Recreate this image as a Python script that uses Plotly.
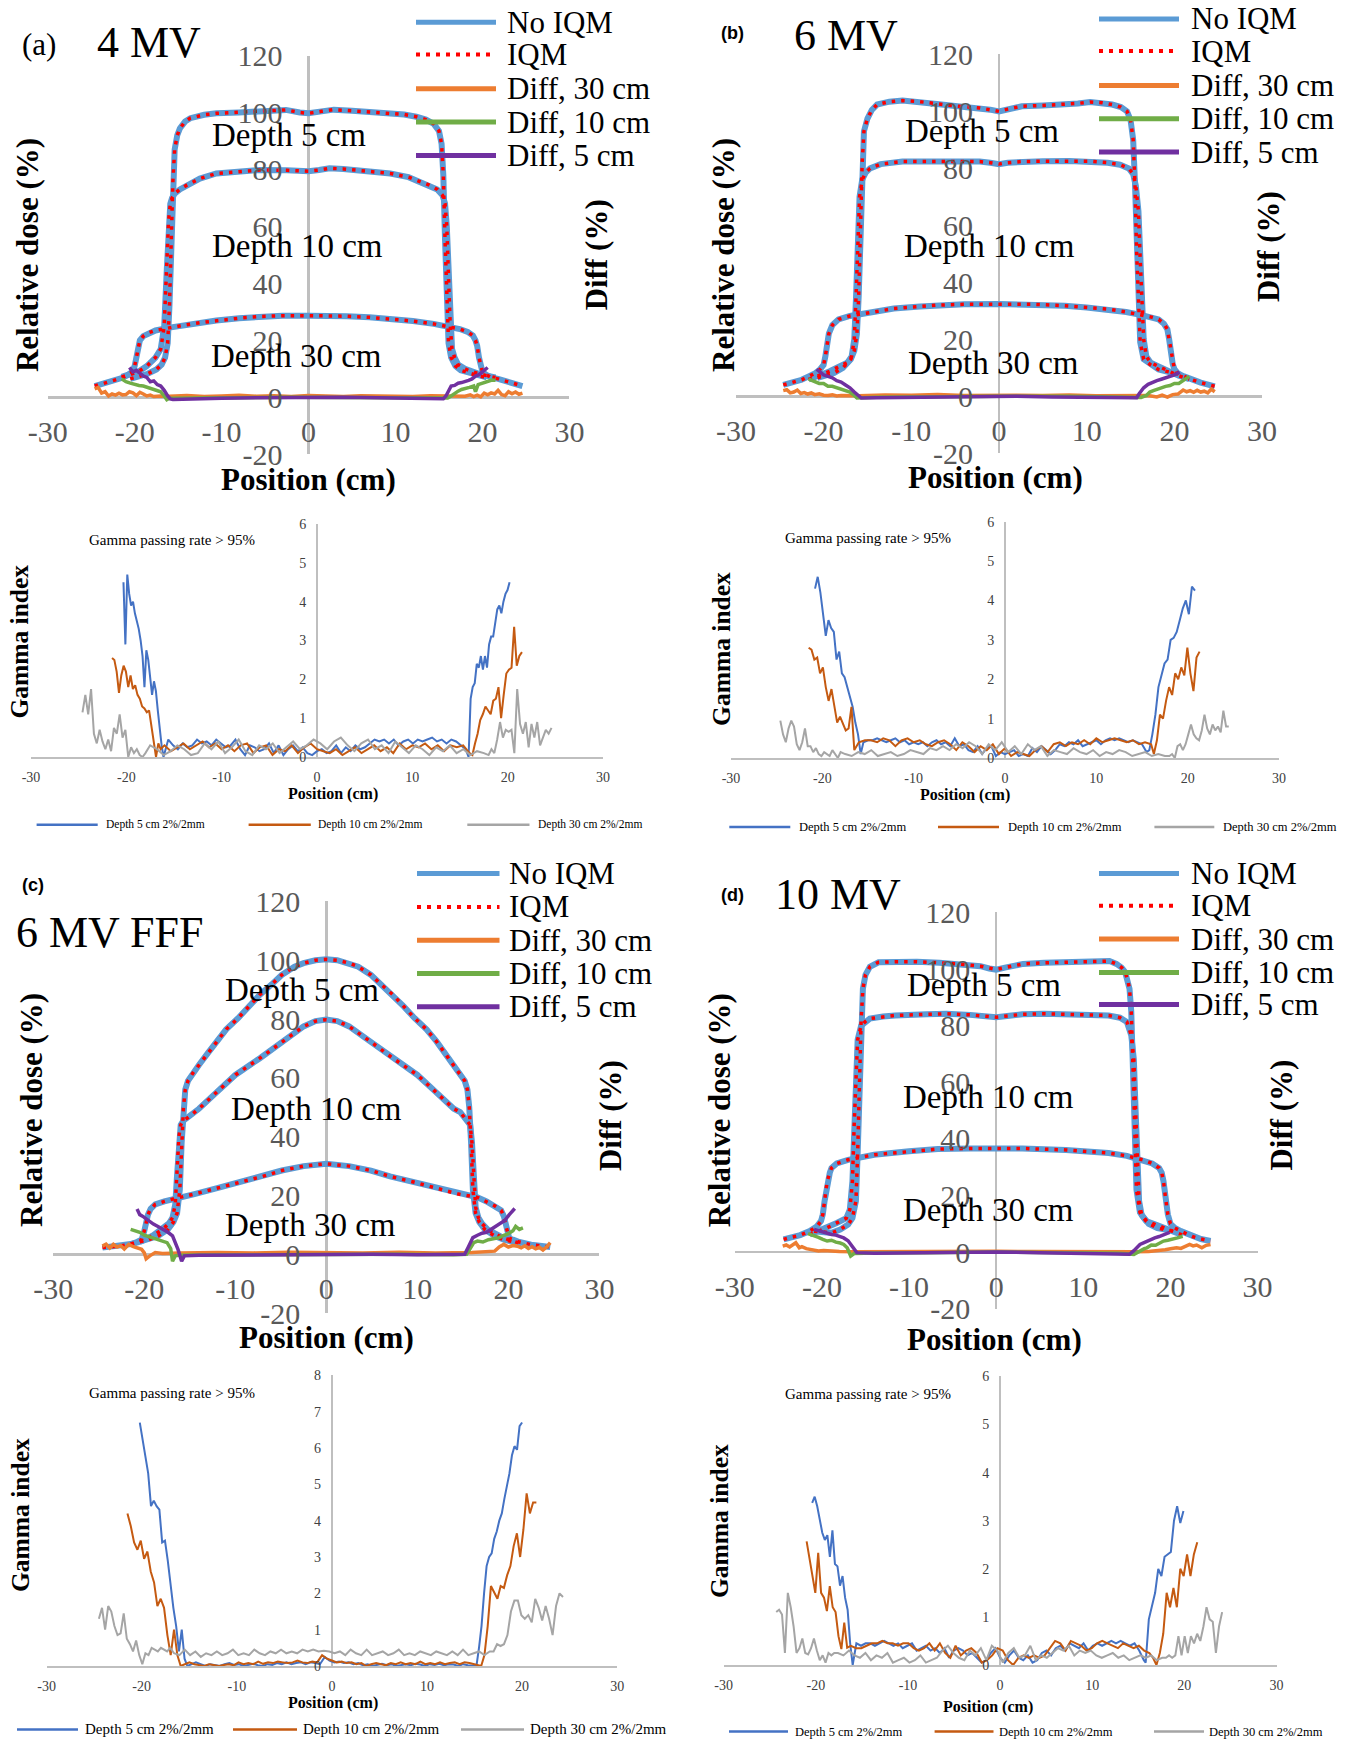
import numpy as np
import plotly.graph_objects as go

W, H = 1351, 1741
def px(x): return x / W
def py(y): return 1 - y / H

SERIF = "Liberation Serif"
SANS = "Liberation Sans"
BLUE = "#5B9BD5"; RED = "#FF0000"; ORANGE = "#ED7D31"; GREEN = "#70AD47"; PURPLE = "#7030A0"
G_BLUE = "#4472C4"; G_BROWN = "#C55A11"; G_GRAY = "#A5A5A5"
AXIS_GRAY = "#BFBFBF"

# ---------------- dose profiles (position cm, relative dose %) ----------------
# (a) 4 MV
A5_X = [-20.5,-19.5,-18.5,-17.5,-16.9,-16.5,-16.2,-16.0,-15.8,-15.6,-15.4,-15.1,-14.8,-14.2,-13.6,-12.0,-10.6,-8.0,-5.6,-2.6,-1.0,0.0,1.5,2.9,5.0,7.0,9.4,11.0,12.4,13.5,14.4,15.0,15.3,15.5,15.7,15.9,16.1,16.4,16.9,17.5,18.5,19.5,20.5]
A5_Y = [6.5,7.3,8.3,9.8,11.5,14,19,32,55,76,87,92,94.4,96.8,98,99.2,99.7,100,100.3,100.9,100,99.7,100.4,101,100.6,100.2,99.7,99.3,98.5,97.5,96,93.5,89,78,55,32,19,14,11,9.5,8.5,7.6,7]
A10_X = [-21.5,-20.5,-19.5,-18.6,-17.6,-17.0,-16.6,-16.3,-16.1,-15.9,-15.7,-15.4,-14.8,-14.0,-12.5,-10.6,-8,-5.6,-2.5,0,1.2,2.4,4,6,9.4,11.5,13.9,14.8,15.4,15.7,15.9,16.1,16.3,16.5,16.8,17.2,18.0,18.8,19.6,20.5,21.5]
A10_Y = [7.2,8.0,9.2,11,14,17,25,45,62,68,70,71.5,73,74.5,76.8,78.6,79.3,79.8,79.7,79.4,79.8,80.4,80.2,79.7,78.6,77.3,74.5,73,71,68,60,42,25,17,14,11.5,10,9,8.3,7.6,7]
A30_X = [-24.6,-23.5,-22.5,-21.5,-20.8,-20.3,-20.0,-19.8,-19.6,-19.4,-19.0,-18.3,-17.6,-16,-14.6,-12.5,-10.6,-8,-5.6,-3,0,2,4.4,7,9.4,12,14.4,16,17.4,18.3,18.9,19.2,19.4,19.6,19.8,20.0,20.4,21.0,21.8,23,24.6]
A30_Y = [4.0,4.9,5.8,6.8,7.8,9,11,14,18,20,21.5,22.8,23.5,24.5,25.2,26.2,27,27.8,28.4,28.7,28.7,28.7,28.5,28.1,27.6,26.8,25.8,25,24,23,21.7,20,18,14,11,9,8,7,6.5,5.3,4]
A_DF5_X = [-20.6,-20.2,-19.8,-19.4,-19.0,-18.6,-18.2,-17.8,-17.4,-17.0,-16.6,-16.2,-15.9,-15.6,-14,-12,-10,-8,-6,-4,-2,0,2,4,6,8,10,12,14,15.5,15.8,16.1,16.4,16.8,17.2,17.6,18,18.4,18.8,19.2,19.6,20.0,20.3,20.6]
A_DF5_Y = [10.5,9,9.5,8.5,7.5,7,5.5,5.8,4.5,4,2.5,0.5,-0.5,-0.7,-0.5,-0.4,-0.3,-0.2,-0.1,0,0.1,0.2,0.2,0.1,0,-0.1,-0.2,-0.3,-0.6,-0.5,0.5,2.5,4,4.2,5,5.2,5.5,6,6.5,7.5,8,9,9.5,10.5]
A_DF10_X = [-21.5,-21,-20.5,-20,-19.5,-19,-18.5,-18,-17.5,-17,-16.6,-16.3,-16,-14,-10,-6,-2,0,2,6,10,14,16,16.4,16.8,17.2,17.6,18,18.5,19,19.2,19.5,20,20.5,21,21.5]
A_DF10_Y = [6.5,5.5,5,4.5,4.2,4,3.5,3,2.8,2,0.5,-0.8,-0.3,-0.2,-0.1,0,0.1,0.1,0.1,0,-0.1,-0.2,-0.2,0.5,1.5,2.2,2.8,3,3.5,4,2,4.5,5,5.5,6,6]
A_DF30_X = [-24.6,-24.2,-23.8,-23.4,-23,-22.6,-22.2,-21.8,-21.4,-21,-20.6,-20.2,-19.8,-19.4,-19,-18.6,-18.2,-17.8,-17,-16,-14,-12,-10,-8,-6,-4,-2,0,2,4,6,8,10,12,14,16,17,18,18.6,19,19.4,19.8,20.2,20.6,21,21.4,21.8,22.2,22.6,23,23.4,23.8,24.2,24.6]
A_DF30_Y = [3,3.5,1.5,2,0.5,1.2,0.8,1.5,0.9,1.0,2,1.6,0.6,1.8,1.2,0.5,0.8,0.3,0.5,0.4,0.7,0.3,0.5,0.8,0.4,0.6,0.3,0.7,0.5,0.3,0.6,0.4,0.5,0.3,0.6,0.5,0.2,0.4,0.9,0.3,0.8,0.2,1.5,0.9,1.6,1.2,2.5,1.0,0.6,2,1.3,1.9,1.1,1.5]

# (b) 6 MV
B5_X = [-20.7,-19.8,-18.8,-17.8,-16.9,-16.5,-16.2,-16.0,-15.8,-15.6,-15.4,-15.0,-14.5,-13.9,-12.5,-11,-9,-7.1,-5,-2.2,-1,0,1,2.6,5,7.5,9,10.4,11.8,12.9,13.9,14.6,15.0,15.3,15.5,15.7,15.9,16.1,16.5,17.3,18.2,19.5,20.7]
B5_Y = [6.5,7.2,8.2,10,13,16,22,35,60,82,93,97.5,100.5,102.4,103.4,103.8,103.4,102.6,101.9,101.2,100.6,100,100.8,101.8,102.1,102.4,102.8,103.3,103,102.4,101.5,100,97,90,75,50,30,19,13,11,9.4,8.4,7.6]
B10_X = [-21.7,-20.5,-19.3,-18.2,-17.3,-16.8,-16.5,-16.3,-16.1,-15.9,-15.6,-15.2,-14.7,-13.5,-11,-8,-5,-2.2,-1,0,1,2.6,5,8,10.5,12.4,13.8,14.8,15.3,15.6,15.9,16.1,16.3,16.5,16.8,17.3,18.2,19.3,20.5,21.7]
B10_Y = [5.9,7.2,8.8,10.5,11.8,14,20,35,55,70,76,78.5,80,81.5,82.4,82.5,82.4,82.4,82,81.5,82,82.4,82.5,82.6,82.5,82,81.3,80,78,74,65,48,30,20,14,11.8,10.5,8.8,7.2,6]
B30_X = [-24.6,-23.5,-22.5,-21.7,-21.0,-20.4,-20.0,-19.8,-19.6,-19.4,-19.0,-18.3,-17,-15.9,-14,-12,-9,-7.1,-4,0,4,7.5,10,12.4,14.5,16.3,17.4,18.2,18.8,19.2,19.4,19.6,19.8,20.0,20.4,21.1,22,23,24.6]
B30_Y = [4,4.8,5.8,7,8,9.5,11,14,19,22,25,27,28.2,28.8,29.8,30.8,31.5,32,32.3,32.4,32.3,31.8,31.2,30.6,29.6,28.5,27.8,27,25.5,23.5,20,15,11.5,9.5,8,7,5.8,4.8,3.5]
B_DF5_X = [-20.8,-20.4,-20,-19.5,-19,-18.5,-18,-17.5,-17,-16.5,-16,-15.7,-14,-10,-6,-2,0,2,6,10,14,15.7,16,16.5,17,17.5,18,18.5,19,19.5,20,20.6]
B_DF5_Y = [9.5,8.5,7.5,7,6.5,5.5,5,4,3,1.5,0,-0.6,-0.5,-0.4,-0.2,-0.1,0,0,-0.2,-0.4,-0.6,-0.5,1,3,4.2,5,5.5,6,6.5,7,7.5,8.5]
B_DF10_X = [-21.7,-21,-20.5,-20,-19.5,-19,-18.5,-18,-17.5,-17,-16.5,-16.2,-14,-8,0,8,14,16.2,16.8,17.2,17.6,18,18.5,19,19.5,20,20.5,21,21.7]
B_DF10_Y = [6,5,4.5,4.5,3.5,3.5,3,2.5,2,1.5,0.3,-0.6,-0.3,-0.1,0,0,-0.2,-0.4,0.3,1.5,2,2.5,3,3.5,3.8,4.5,4.5,5.5,7]
B_DF30_X = [-24.6,-24.2,-23.8,-23.4,-23,-22.6,-22.2,-21.8,-21.4,-21,-20.5,-20,-19.5,-19,-18.5,-18,-16,-13,-10,-7,-4,-1,2,5,8,11,14,17,18,18.6,19.2,19.8,20.4,21,21.4,21.8,22.2,22.6,23,23.4,23.8,24.2,24.6]
B_DF30_Y = [2,2.3,1.2,1.5,2.2,1.0,1.3,0.8,1.2,0.6,0.9,0.4,0.3,0.5,0.1,0.3,0.2,0.5,0.4,0.6,0.3,0.5,0.4,0.3,0.5,0.2,0.4,0.3,-0.2,0.4,-0.3,0.6,0.8,2.2,1.6,2.0,1.4,2.1,1.5,1.8,1.2,2.5,1.6]

# (c) 6 MV FFF
C5_X = [-20.5,-19.5,-18.5,-17.4,-16.8,-16.4,-16.1,-15.9,-15.7,-15.5,-15.2,-14.7,-14,-13,-12.1,-11,-9.7,-8.5,-7.3,-6,-4.9,-3.5,-2.5,-1.2,0,1.2,2.5,3.5,4.9,6,7.3,8.5,9.7,11,12.1,13,14,14.7,15.2,15.5,15.7,15.9,16.1,16.4,16.8,17.4,18.5,19.5,20.5]
C5_Y = [4.3,5,6.2,8.5,11,14,22,38,50,56,59,61.5,64.4,68.5,72.4,76.5,80.3,84.3,88.3,91.8,95,97.8,99,100,100.3,100,99,97.8,95,91.8,88.3,84.3,80.3,76.5,72.4,68.5,64.4,61.5,59,56,50,38,22,14,11,8.5,6.2,5,4.3]
C10_X = [-21.5,-20.3,-19,-18,-17.3,-16.9,-16.6,-16.4,-16.2,-16.0,-15.7,-15.2,-14,-12.1,-10,-7.3,-5,-2.5,-1.2,0,1.2,2.5,5,7.3,10,12.1,14,14.7,15.2,15.5,15.8,16.0,16.2,16.4,16.7,17.1,17.7,18.5,19.5,20.5,21.5]
C10_Y = [3.4,4.5,6.5,8.5,10.5,12.5,17,27,40,44,45.5,46.5,49.5,55,61,66.7,72,77.5,79.3,79.8,79.3,77.5,72,66.7,61,55,49.5,48.4,46.5,45.5,44,38,25,16,12.5,10.5,8.5,7,5.5,4.5,3.5]
C30_X = [-24.6,-23.5,-22.7,-21.5,-20.8,-20.3,-20,-19.8,-19.6,-19.3,-18.8,-17.8,-16.9,-14.5,-12,-9.7,-7,-4.9,-2.5,0,2.5,4.9,7,9.7,12,14.5,16.6,17.6,18.5,19.2,19.5,19.7,19.9,20.1,20.5,21.2,22.5,23.5,24.6]
C30_Y = [2.3,2.6,2.8,3.5,4.2,5,8,11,13.5,15.5,17,18,18.8,20.5,22.5,24.5,26.5,28.5,30,30.8,30,28.5,26.5,24.5,22.5,20.5,19.4,18,16.5,15,13,10,7.5,5.5,5,4.2,3.3,2.8,2.5]
C_DF5_X = [-20.8,-20.5,-20.2,-19.8,-19.4,-19,-18.5,-17.9,-17.4,-16.9,-16.6,-16.3,-15.9,-15.6,-14,-10,-5,0,5,10,14,15.2,15.6,16.1,16.6,17.1,17.6,18.1,18.6,19.1,19.6,20.1,20.7]
C_DF5_Y = [15.4,13.5,13,12,11,10.3,9.5,8.5,7.5,6.3,4,1.7,-2.3,-0.5,-0.3,-0.2,-0.1,0,0,-0.1,-0.2,0,2.5,5.7,6.5,7.2,7.5,8.5,9.5,10.3,11.5,13.5,15.6]
C_DF10_X = [-21.5,-21,-20.5,-20,-19.5,-19,-18.5,-18,-17.5,-17.1,-16.9,-16.6,-16.2,-14,-8,0,8,14,15.4,15.8,16.2,16.6,17.2,17.8,18.4,19,19.5,20,20.5,20.8,21.2,21.6]
C_DF10_Y = [8.5,8,7.5,6.5,6,5.5,5,4.5,4,2,-2.3,-0.5,-0.3,-0.2,-0.1,0,0,-0.1,0,2,4,4.5,4.2,5,5.5,5.7,6.5,7,8,9.5,8.5,9]
C_DF30_X = [-24.6,-24.2,-23.8,-23.4,-23,-22.6,-22.2,-21.7,-21.2,-20.7,-20.3,-20,-19.8,-19.4,-18.8,-18,-16,-12,-8,-4,0,4,8,12,16,17.5,18.5,19,19.5,20,20.5,21,21.4,21.8,22.2,22.6,23,23.4,23.8,24.2,24.6]
C_DF30_Y = [2.8,3.5,2.2,3.4,2.5,3.0,1.8,3.4,2.6,2.0,1.7,0.5,-1.5,-0.5,0.6,0.3,0.5,0.6,0.5,0.7,0.6,0.5,0.7,0.5,0.6,0.8,1.1,2.5,3.4,2.5,3.0,2.8,2.2,2.9,2.0,2.6,1.9,2.4,1.5,2.5,4]

# (d) 10 MV
D5_X = [-20.9,-19.9,-18.9,-17.9,-17.0,-16.5,-16.1,-15.9,-15.7,-15.5,-15.3,-15.0,-14.5,-13.5,-11.5,-9.1,-6.5,-4.3,-1.8,-0.8,0,1,3.1,5.5,8,10,11.9,13,13.8,14.4,14.8,15.1,15.3,15.5,15.7,15.9,16.1,16.5,17.5,18.5,19.5,20.9]
D5_Y = [7.4,7.2,6.8,8,9.7,12,18,35,60,82,93,98,100.8,102.4,102.6,102.6,102.2,101.8,101,100.2,99.8,100.5,101.8,102.2,102.4,102.7,103,102.8,101.8,100.5,98.9,96,93,85,65,40,22,14,10,8.5,7.8,7.2]
D10_X = [-21.4,-20.4,-19.4,-18.3,-17.2,-16.8,-16.5,-16.3,-16.1,-15.9,-15.5,-15.0,-14.5,-13,-11.6,-8,-5.7,-3,-1.5,0,1.5,3,5.5,8,10.5,12.9,14.2,15,15.5,15.8,16.0,16.2,16.4,16.7,17.2,18.3,19.4,20.4,21.4]
D10_Y = [6.2,7.4,8.6,10.3,12,15,25,45,65,75,80,81.5,82.5,83.2,83.6,84,84.2,83.8,83.3,83,83.5,84,84.2,84,83.8,83.6,82.8,81.3,76.6,68,50,30,18,13,11,9.7,8.3,7.2,6]
D30_X = [-24.4,-23.5,-22.5,-21.4,-20.6,-20.1,-19.9,-19.7,-19.4,-19.1,-18.9,-18.3,-17,-14,-10,-6.7,-3,0,3,8,10,12.9,15,16.8,17.9,18.7,19.0,19.2,19.4,19.7,20.0,20.5,21.2,22.5,23.5,24.6]
D30_Y = [4.5,5.2,6,7.4,9,11,13.3,18,25,28,29.7,31.3,32.6,34.4,35.6,36.4,36.6,36.7,36.6,36.1,35.7,35,34,32.6,31.3,29.7,28,25,20,13.3,10,8.5,7.4,5.5,4.6,3.9]
D_DF5_X = [-20.9,-20.4,-19.9,-19.4,-18.9,-18.4,-17.9,-17.5,-17,-16.6,-16.2,-16,-14,-10,-5,0,5,10,14,15.3,15.8,16.5,17.1,17.7,18.2,18.7,19.2,19.6,19.9]
D_DF5_Y = [8,7.5,7,6.5,6.2,6,5.5,5,4,2.5,0.8,-0.2,-0.4,-0.3,-0.2,0,-0.2,-0.4,-0.6,-0.8,0.5,2.7,3.5,4.5,5,5.5,6.2,6.8,7]
D_DF10_X = [-21.6,-21,-20.4,-19.9,-19.4,-18.9,-18.4,-17.9,-17.5,-17.1,-16.7,-16.3,-14,-8,0,8,14,15.8,16.4,17,17.3,17.8,18.3,18.8,19.2,19.7,20.2,20.8,21.4]
D_DF10_Y = [6.5,6,5.2,4.5,3.9,4.2,3.5,3.2,2.7,1.5,-1.4,-0.5,-0.3,-0.2,0,-0.2,-0.4,-0.8,0.3,1.2,1.5,2.5,2.4,3.2,3.9,4.2,4.5,5,5.6]
D_DF30_X = [-24.5,-24.1,-23.7,-23.3,-23,-22.6,-22.3,-21.8,-21.3,-20.8,-20.4,-19.8,-19,-18,-16,-12,-8,-4,0,4,8,12,16,17.5,18.7,19.4,20,20.7,21.2,21.7,22.2,22.6,23,23.6,24.1,24.6]
D_DF30_Y = [2.1,2.5,1.8,2.6,3.3,1.5,1.9,1.2,1.0,0.8,0.4,0.6,0.3,0.2,0.1,0.2,0.1,0.2,0.3,0.2,0.1,0.2,0.1,0.2,0.4,0.8,1.2,1.5,1.3,2.0,2.7,2.2,2.5,1.5,2.4,2.7]

# ---------------- gamma index (left edge / middle / right edge samples) ----------------
# spans: (left start, left end, mid start, mid end, right start, right end) in cm
GA5_SPAN = (-20.3, -16.1, -15.6, 15.6, 15.9, 20.2)
GA5_L = [4.5,2.9,4.7,4.2,3.9,4.0,3.7,3.5,3.3,3.0,2.6,1.8,2.75,2.5,2.0,1.6,1.95,1.7,1.2,0.7,0.3,0.0]
GA5_M = [0.45,0.3,0.2,0.35,0.25,0.3,0.45,0.35,0.4,0.3,0.45,0.35,0.25,0.3,0.45,0.2,0.05,0.3,0.25,0.15,0.2,0.35,0.1,0.3,0.05,0.2,0.3,0.15,0.25,0.1,0.05,0.15,0.2,0.1,0.15,0.3,0.1,0.25,0.15,0.3,0.2,0.25,0.35,0.45,0.4,0.45,0.35,0.45,0.3,0.4,0.45,0.35,0.45,0.4,0.45,0.5,0.4,0.45,0.35,0.45,0.4,0.3,0.2]
GA5_R = [0.0,1.5,1.8,1.9,2.4,2.3,2.6,2.25,2.6,2.3,2.9,3.1,3.1,3.4,3.8,3.9,3.7,4.0,4.2,4.3,4.5]
GA10_SPAN = (-21.5, -16.4, -16.0, 16.0, 16.3, 21.5)
GA10_L = [2.55,2.5,2.2,1.65,2.1,2.35,2.2,1.8,2.1,1.75,1.85,1.6,1.5,1.3,1.25,1.15,1.2,0.8,0.3,0.0,0.35,0.2]
GA10_M = [0.3,0.15,0.25,0.35,0.2,0.3,0.4,0.25,0.35,0.2,0.3,0.15,0.3,0.35,0.1,0.25,0.3,0.05,0.2,0.15,0.3,0.1,0.25,0.35,0.2,0.15,0.1,0.2,0.05,0.15,0.25,0.1,0.2,0.3,0.15,0.25,0.1,0.35,0.2,0.3,0.25,0.35,0.2,0.3,0.15,0.3,0.25,0.3,0.1]
GA10_R = [0.05,0.35,0.6,0.95,1.1,1.3,1.2,1.1,1.45,1.5,1.8,1.0,1.6,2.15,2.25,2.3,3.35,2.35,2.6,2.7]
GA30_SPAN = (-24.6, -18.0, -17.5, 17.5, 18.0, 24.6)
GA30_L = [1.15,1.6,1.1,1.75,0.6,0.35,0.7,0.4,0.2,0.45,0.15,0.75,0.6,1.1,0.5,0.7,0.0,0.25,0.1,0.2,0.05,0.0,0.1]
GA30_M = [0.3,0.2,0.05,0.15,0.3,0.2,0.05,0.1,0.35,0.2,0.4,0.1,0.25,0.45,0.15,0.05,0.3,0.2,0.35,0.1,0.25,0.4,0.2,0.3,0.45,0.35,0.2,0.4,0.5,0.3,0.15,0.35,0.45,0.2,0.3,0.1,0.4,0.25,0.1,0.3,0.2,0.05,0.25,0.15,0.3,0.1,0.2,0.05,0.15,0.1]
GA30_R = [0.05,0.2,0.1,0.45,0.9,0.5,0.7,0.65,0.7,0.1,1.75,0.85,0.6,0.9,0.25,0.85,0.5,0.9,0.3,0.5,0.7,0.6,0.75]

GB5_SPAN = (-20.8, -15.8, -15.5, 15.5, 15.8, 20.8)
GB5_L = [4.3,4.6,4.2,3.6,3.1,3.5,3.3,3.2,2.5,2.7,2.15,2.05,1.8,1.5,1.3,0.9,0.6,0.1]
GB5_M = [0.4,0.45,0.45,0.5,0.45,0.4,0.45,0.5,0.4,0.45,0.35,0.4,0.35,0.4,0.3,0.4,0.45,0.35,0.4,0.3,0.5,0.3,0.35,0.2,0.15,0.3,0.1,0.25,0.3,0.05,0.15,0.1,0.15,0.2,0.05,0.1,0.05,0.25,0.15,0.3,0.2,0.1,0.2,0.35,0.3,0.4,0.35,0.45,0.3,0.35,0.4,0.45,0.35,0.45,0.5,0.45,0.5,0.45,0.4,0.45,0.4,0.35,0.15]
GB5_R = [0.2,0.6,1.1,1.8,2.1,2.4,2.5,3.0,3.05,3.2,3.5,3.8,4.0,3.65,4.35,4.25]
GB10_SPAN = (-21.5, -16.5, -16.0, 16.0, 16.3, 21.3)
GB10_L = [2.8,2.75,2.5,2.55,2.15,2.3,1.8,1.45,1.75,1.3,0.9,1.05,0.85,0.7,0.75,1.3,0.2]
GB10_M = [0.4,0.45,0.45,0.4,0.5,0.45,0.3,0.45,0.5,0.4,0.45,0.35,0.3,0.4,0.45,0.35,0.2,0.4,0.3,0.15,0.3,0.2,0.35,0.1,0.25,0.05,0.15,0.1,0.05,0.2,0.3,0.15,0.35,0.4,0.3,0.4,0.35,0.45,0.35,0.5,0.4,0.45,0.5,0.45,0.4,0.45,0.35,0.4,0.35]
GB10_R = [0.1,0.45,1.1,1.0,1.45,1.8,1.6,2.15,2.0,2.3,2.1,2.8,2.15,1.7,2.55,2.7]
GB30_SPAN = (-24.6, -18.0, -17.5, 17.5, 18.0, 24.5)
GB30_L = [0.95,0.6,0.4,0.75,0.95,0.8,0.35,0.2,0.4,0.75,0.3,0.3,0.15,0.25,0.1,0.05,0.15,0.1,0.05,0.2,0.1,0.0,0.15]
GB30_M = [0.1,0.05,0.15,0.1,0.2,0.05,0.1,0.15,0.05,0.1,0.2,0.15,0.1,0.25,0.2,0.3,0.2,0.35,0.25,0.4,0.3,0.1,0.35,0.2,0.4,0.15,0.3,0.1,0.35,0.2,0.3,0.05,0.2,0.15,0.1,0.25,0.15,0.1,0.2,0.05,0.15,0.1,0.2,0.15,0.05,0.1,0.15,0.05,0.1,0.05]
GB30_R = [0.05,0.1,0.0,0.3,0.35,0.2,0.35,0.6,0.85,0.6,0.5,0.45,0.7,1.1,0.75,0.6,0.85,0.7,0.8,0.65,1.2,0.8,0.8]

GC5_SPAN = (-20.2, -15.2, -14.8, 14.8, 15.2, 20.0)
GC5_L = [6.7,6.2,5.8,5.3,4.4,4.55,4.4,4.3,3.4,3.45,2.9,2.2,1.6,1.1,0.4,1.0,0.2,0.0]
GC5_M = [0.05,0.1,0.05,0.0,0.05,0.02,0.0,0.05,0.08,0.03,0.05,0.0,0.04,0.06,0.02,0.0,0.05,0.03,0.08,0.05,0.1,0.05,0.08,0.1,0.05,0.1,0.08,0.05,0.25,0.15,0.1,0.12,0.08,0.1,0.05,0.08,0.02,0.05,0.0,0.04,0.06,0.02,0.05,0.0,0.03,0.05,0.02,0.06,0.04,0.0,0.05,0.03,0.06,0.02,0.05,0.04,0.0,0.05,0.02,0.0]
GC5_R = [0.0,0.5,1.1,2.0,2.75,3.0,3.1,3.5,3.7,4.0,4.2,4.6,4.95,5.3,5.8,6.05,5.95,6.6,6.7]
GC10_SPAN = (-21.5, -15.9, -15.5, 15.5, 15.7, 21.5)
GC10_L = [4.2,3.85,3.4,3.2,3.45,2.95,3.15,2.6,2.3,1.65,1.85,1.6,0.85,0.3,1.0,0.3,0.0]
GC10_M = [0.05,0.1,0.05,0.02,0.0,0.05,0.02,0.0,0.03,0.05,0.02,0.1,0.05,0.08,0.05,0.12,0.06,0.1,0.08,0.12,0.1,0.08,0.1,0.15,0.1,0.08,0.12,0.1,0.3,0.2,0.15,0.1,0.12,0.08,0.1,0.05,0.08,0.0,0.05,0.08,0.05,0.02,0.08,0.05,0.1,0.05,0.08,0.05,0.12,0.05,0.08,0.05,0.1,0.05,0.08,0.1,0.05,0.1,0.08,0.05,0.0]
GC10_R = [0.0,0.3,1.1,2.2,2.0,1.85,2.2,2.15,2.5,2.75,3.3,3.65,3.0,3.75,4.75,4.2,4.5,4.5]
GC30_SPAN = (-24.5, -17.0, -16.6, 16.6, 17.0, 24.3)
GC30_L = [1.3,1.6,1.0,1.65,1.5,1.1,0.85,0.9,1.45,0.75,0.6,0.4,0.7,0.3,0.05,0.35,0.3,0.5,0.45,0.4,0.5,0.45,0.4,0.5]
GC30_M = [0.35,0.3,0.45,0.3,0.4,0.25,0.35,0.3,0.4,0.3,0.35,0.45,0.3,0.35,0.3,0.45,0.35,0.3,0.4,0.35,0.45,0.35,0.4,0.35,0.45,0.4,0.45,0.4,0.42,0.4,0.35,0.4,0.3,0.45,0.35,0.3,0.45,0.3,0.35,0.4,0.3,0.35,0.45,0.3,0.35,0.3,0.4,0.35,0.3,0.4,0.35,0.3,0.4,0.3,0.45,0.3,0.35,0.4,0.3,0.4]
GC30_R = [0.4,0.6,0.55,0.6,0.85,1.5,1.8,1.8,1.4,1.3,1.4,1.2,1.85,1.6,1.25,1.65,1.3,0.85,1.65,2.0,1.9]

GD5_SPAN = (-20.4, -16.0, -15.6, 15.6, 15.8, 19.9)
GD5_L = [3.37,3.5,3.3,3.0,2.75,2.6,2.7,2.25,2.8,2.1,2.05,1.65,1.85,1.4,1.15,0.45,0.0]
GD5_M = [0.45,0.4,0.45,0.45,0.4,0.45,0.5,0.45,0.4,0.45,0.35,0.4,0.45,0.3,0.35,0.4,0.3,0.35,0.25,0.35,0.15,0.3,0.35,0.3,0.2,0.25,0.15,0.05,0.1,0.25,0.35,0.15,0.05,0.2,0.3,0.15,0.1,0.2,0.05,0.1,0.25,0.3,0.2,0.35,0.4,0.3,0.45,0.4,0.35,0.45,0.3,0.4,0.45,0.4,0.45,0.5,0.45,0.5,0.45,0.4,0.45,0.3,0.1]
GD5_R = [0.05,0.95,1.2,1.5,2.0,1.85,2.25,2.3,2.35,3.0,3.3,2.95,3.2]
GD10_SPAN = (-21.0, -16.6, -16.2, 16.2, 16.6, 21.4)
GD10_L = [2.57,2.2,1.8,1.5,2.33,1.5,1.4,1.12,1.64,1.2,1.1,0.6,0.33,0.88,0.36]
GD10_M = [0.4,0.35,0.35,0.4,0.45,0.45,0.5,0.45,0.45,0.4,0.45,0.45,0.35,0.3,0.35,0.45,0.3,0.45,0.25,0.15,0.4,0.2,0.3,0.35,0.25,0.05,0.1,0.2,0.35,0.3,0.1,0.0,0.15,0.2,0.15,0.2,0.15,0.2,0.35,0.5,0.45,0.3,0.5,0.45,0.4,0.3,0.35,0.45,0.5,0.45,0.4,0.35,0.45,0.4,0.35,0.4,0.3,0.25]
GD10_R = [0.15,0.0,0.25,0.65,1.5,1.2,1.6,1.2,2.0,1.85,2.3,1.85,2.3,2.55]
GD30_SPAN = (-24.3, -18.0, -17.6, 17.6, 18.0, 24.1)
GD30_L = [1.1,1.15,1.05,0.25,1.5,1.2,0.8,0.25,0.35,0.55,0.25,0.22,0.35,0.55,0.3,0.1,0.2,0.05,0.25,0.2,0.25]
GD30_M = [0.25,0.2,0.3,0.2,0.15,0.25,0.1,0.2,0.15,0.25,0.05,0.1,0.15,0.05,0.1,0.2,0.05,0.1,0.15,0.3,0.4,0.25,0.15,0.1,0.3,0.2,0.35,0.1,0.4,0.3,0.05,0.25,0.35,0.15,0.2,0.4,0.1,0.2,0.15,0.25,0.35,0.3,0.4,0.2,0.3,0.25,0.3,0.2,0.15,0.2,0.25,0.15,0.2,0.1,0.15,0.2,0.15,0.2,0.1,0.15]
GD30_R = [0.15,0.2,0.15,0.2,0.6,0.2,0.6,0.25,0.6,0.45,0.65,0.5,0.8,1.2,0.95,0.9,0.25,0.8,1.1]

DOSE_TICKS = [-30, -20, -10, 0, 10, 20, 30]
DOSE_TICKTEXT = ["-30", "-20", "-10", "0", "10", "20", "30"]
DOSE_YTICKS = [-20, 0, 20, 40, 60, 80, 100, 120]
DOSE_YTICKTEXT = ["-20", "0", "20", "40", "60", "80", "100", "120"]
LEGEND_NAMES = ["No IQM", "IQM", "Diff, 30 cm", "Diff, 10 cm", "Diff, 5 cm"]
GAMMA_NAMES = ["Depth 5 cm 2%/2mm", "Depth 10 cm 2%/2mm", "Depth 30 cm 2%/2mm"]


def gamma_xy(span, L, M, R):
    x = (list(np.linspace(span[0], span[1], len(L))) + list(np.linspace(span[2], span[3], len(M)))
         + list(np.linspace(span[4], span[5], len(R))))
    return x, L + M + R


fig = go.Figure()
annotations = []
shapes = []
layout = {}


def ax_names(n):
    return ("x" if n == 1 else f"x{n}"), ("y" if n == 1 else f"y{n}"), \
           ("xaxis" if n == 1 else f"xaxis{n}"), ("yaxis" if n == 1 else f"yaxis{n}")


def ann(text, x, y, size, color="black", angle=0, xanchor="center", family=SERIF):
    annotations.append(dict(text=text, x=px(x), y=py(y), xref="paper", yref="paper",
                            showarrow=False, xanchor=xanchor, yanchor="middle", textangle=angle,
                            font=dict(family=family, size=size, color=color)))


def hline(x0, x1, y, color, width, dash="solid"):
    shapes.append(dict(type="line", xref="paper", yref="paper", x0=px(x0), x1=px(x1),
                       y0=py(y), y1=py(y), line=dict(color=color, width=width, dash=dash)))


DOSE = [
    dict(n=1, box=(47.7, 569.4, 55.5, 454.4),
         prof=[(A5_X, A5_Y), (A10_X, A10_Y), (A30_X, A30_Y)],
         diff=[(A_DF30_X, A_DF30_Y, ORANGE), (A_DF10_X, A_DF10_Y, GREEN), (A_DF5_X, A_DF5_Y, PURPLE)],
         labels=[("Depth 5 cm", 288.6, 135.4), ("Depth 10 cm", 297.5, 246.4), ("Depth 30 cm", 296.4, 356.3)],
         leg=(416, 496, 505, [22.2, 54.4, 88.8, 122.1, 155.4]),
         rel=(27.8, 255.3), dif=(596, 255.3), pos=(308.6, 479.5)),
    dict(n=3, box=(735.9, 1262.1, 54.4, 453.3),
         prof=[(B5_X, B5_Y), (B10_X, B10_Y), (B30_X, B30_Y)],
         diff=[(B_DF30_X, B_DF30_Y, ORANGE), (B_DF10_X, B_DF10_Y, GREEN), (B_DF5_X, B_DF5_Y, PURPLE)],
         labels=[("Depth 5 cm", 982.4, 131), ("Depth 10 cm", 990, 246.4), ("Depth 30 cm", 993.5, 363)],
         leg=(1099, 1179, 1189, [18.9, 51.1, 85.5, 118.8, 152.1]),
         rel=(723.7, 255.3), dif=(1268.7, 246.4), pos=(995.7, 477.3)),
    dict(n=5, box=(53.3, 599.4, 901.4, 1313.2),
         prof=[(C5_X, C5_Y), (C10_X, C10_Y), (C30_X, C30_Y)],
         diff=[(C_DF30_X, C_DF30_Y, ORANGE), (C_DF10_X, C_DF10_Y, GREEN), (C_DF5_X, C_DF5_Y, PURPLE)],
         labels=[("Depth 5 cm", 302, 990), ("Depth 10 cm", 316.4, 1109), ("Depth 30 cm", 310.8, 1225.4)],
         leg=(417, 499.5, 507, [873.6, 906.9, 940.2, 973.5, 1006.8]),
         rel=(31, 1110), dif=(610.5, 1115.6), pos=(326.3, 1337.6)),
    dict(n=7, box=(734.8, 1257.6, 912.4, 1308.7),
         prof=[(D5_X, D5_Y), (D10_X, D10_Y), (D30_X, D30_Y)],
         diff=[(D_DF30_X, D_DF30_Y, ORANGE), (D_DF10_X, D_DF10_Y, GREEN), (D_DF5_X, D_DF5_Y, PURPLE)],
         labels=[("Depth 5 cm", 983.5, 984.6), ("Depth 10 cm", 988, 1096.7), ("Depth 30 cm", 988, 1210)],
         leg=(1099, 1179, 1189, [873.6, 905.8, 939, 972.4, 1004.6]),
         rel=(719.3, 1110), dif=(1282, 1115.6), pos=(994.6, 1339.8)),
]

for d in DOSE:
    n = d["n"]
    xr, yr, xk, yk = ax_names(n)
    xl, xrr, yt, yb = d["box"]
    x0px = (xl + xrr) / 2
    y0px = yt + (120 / 140) * (yb - yt)
    tickfont = dict(family=SERIF, size=30, color="#595959")
    layout[xk] = dict(domain=[px(xl), px(xrr)], range=[-30, 30], anchor="free", position=py(y0px),
                      tickvals=DOSE_TICKS, ticktext=DOSE_TICKTEXT, ticks="outside",
                      ticklen=8, automargin=False,
                      tickcolor="rgba(0,0,0,0)", showgrid=False, showline=False, zeroline=True,
                      zerolinecolor=AXIS_GRAY, zerolinewidth=2.5, tickfont=tickfont, fixedrange=True)
    layout[yk] = dict(domain=[py(yb), py(yt)], range=[-20, 120], anchor="free", position=px(x0px),
                      tickvals=DOSE_YTICKS, ticktext=DOSE_YTICKTEXT, ticks="outside", ticklen=20,
                      tickcolor="rgba(0,0,0,0)", automargin=False,
                      showgrid=False, showline=False, zeroline=True, zerolinecolor=AXIS_GRAY,
                      zerolinewidth=2.5, tickfont=tickfont, fixedrange=True)
    for (x, y) in d["prof"]:
        fig.add_trace(go.Scatter(x=x, y=y, mode="lines", line=dict(color=BLUE, width=6),
                                 xaxis=xr, yaxis=yr, showlegend=False, hoverinfo="skip"))
    for (x, y) in d["prof"]:
        fig.add_trace(go.Scatter(x=x, y=y, mode="lines", line=dict(color=RED, width=3.5, dash="3.5px,6px"),
                                 xaxis=xr, yaxis=yr, showlegend=False, hoverinfo="skip"))
    for (x, y, c) in d["diff"]:
        fig.add_trace(go.Scatter(x=x, y=y, mode="lines", line=dict(color=c, width=3.5),
                                 xaxis=xr, yaxis=yr, showlegend=False, hoverinfo="skip"))
    for (t, x, y) in d["labels"]:
        ann(t, x, y, 33)
    lx0, lx1, tx, ys = d["leg"]
    styles = [(BLUE, 5, "solid"), (RED, 4, "4px,6px"), (ORANGE, 5, "solid"), (GREEN, 5, "solid"), (PURPLE, 5, "solid")]
    for name, yy, (c, w, ds) in zip(LEGEND_NAMES, ys, styles):
        hline(lx0, lx1, yy, c, w, ds)
        ann(name, tx, yy, 31, xanchor="left")
    ann("<b>Relative dose (%)</b>", d["rel"][0], d["rel"][1], 31, angle=-90)
    ann("<b>Diff (%)</b>", d["dif"][0], d["dif"][1], 31, angle=-90)
    ann("<b>Position (cm)</b>", d["pos"][0], d["pos"][1], 31)

GAMMA = [
    dict(n=2, box=(31, 603, 524, 757), ymax=6,
         curves=[(GA5_SPAN, GA5_L, GA5_M, GA5_R), (GA10_SPAN, GA10_L, GA10_M, GA10_R), (GA30_SPAN, GA30_L, GA30_M, GA30_R)],
         note=(172, 539.5), gi=(20, 641.6), pos=(333, 793.7),
         leg=(824.7, [(36.6, 97.7, 104.3), (248.6, 310.8, 316.4), (467.3, 529.5, 536)], 11.5)),
    dict(n=4, box=(731, 1279, 521.7, 758), ymax=6,
         curves=[(GB5_SPAN, GB5_L, GB5_M, GB5_R), (GB10_SPAN, GB10_L, GB10_M, GB10_R), (GB30_SPAN, GB30_L, GB30_M, GB30_R)],
         note=(868, 538.4), gi=(721.5, 649.4), pos=(964.6, 794.8),
         leg=(827, [(729.3, 790.3, 797), (938, 999, 1005.7), (1154.4, 1214.3, 1221)], 12.5)),
    dict(n=6, box=(46.6, 617.2, 1375.3, 1666), ymax=8,
         curves=[(GC5_SPAN, GC5_L, GC5_M, GC5_R), (GC10_SPAN, GC10_L, GC10_M, GC10_R), (GC30_SPAN, GC30_L, GC30_M, GC30_R)],
         note=(172, 1393), gi=(20, 1515), pos=(333, 1702.7),
         leg=(1729.4, [(17, 78, 83), (233, 297, 301), (461, 524, 528)], 15)),
    dict(n=8, box=(723.7, 1276.5, 1376.4, 1665), ymax=6,
         curves=[(GD5_SPAN, GD5_L, GD5_M, GD5_R), (GD10_SPAN, GD10_L, GD10_M, GD10_R), (GD30_SPAN, GD30_L, GD30_M, GD30_R)],
         note=(868, 1394), gi=(719.3, 1520.7), pos=(988, 1707),
         leg=(1731.6, [(729, 788, 792.5), (934.6, 993.5, 996.8), (1154, 1204, 1206.6)], 12.5)),
]

GCOLORS = [G_BLUE, G_BROWN, G_GRAY]
for g in GAMMA:
    n = g["n"]
    xr, yr, xk, yk = ax_names(n)
    xl, xrr, yt, yb = g["box"]
    x0px = (xl + xrr) / 2
    tickfont = dict(family=SERIF, size=14, color="#404040")
    layout[xk] = dict(domain=[px(xl), px(xrr)], range=[-30, 30], anchor=yr,
                      tickvals=DOSE_TICKS, ticktext=DOSE_TICKTEXT, ticks="outside", ticklen=6,
                      tickcolor="rgba(0,0,0,0)", automargin=False,
                      showgrid=False, showline=True, linecolor=AXIS_GRAY, linewidth=2,
                      zeroline=True, zerolinecolor=AXIS_GRAY, zerolinewidth=2, tickfont=tickfont, fixedrange=True)
    layout[yk] = dict(domain=[py(yb), py(yt)], range=[0, g["ymax"]], anchor="free", position=px(x0px),
                      tickvals=list(range(0, g["ymax"] + 1)), ticks="outside", ticklen=8,
                      tickcolor="rgba(0,0,0,0)", automargin=False, showgrid=False, showline=False,
                      zeroline=False, tickfont=tickfont, fixedrange=True)
    for (span, L, M, R), c in zip(g["curves"], GCOLORS):
        x, y = gamma_xy(span, L, M, R)
        fig.add_trace(go.Scatter(x=x, y=y, mode="lines", line=dict(color=c, width=2),
                                 xaxis=xr, yaxis=yr, showlegend=False, hoverinfo="skip"))
    ann("Gamma passing rate > 95%", g["note"][0], g["note"][1], 15)
    ann("<b>Gamma index</b>", g["gi"][0], g["gi"][1], 25.5, angle=-90)
    ann("<b>Position (cm)</b>", g["pos"][0], g["pos"][1], 16)
    ly, items, fs = g["leg"]
    for name, (a0, a1, tx), c in zip(GAMMA_NAMES, items, GCOLORS):
        hline(a0, a1, ly, c, 2.5)
        ann(name, tx, ly, fs, xanchor="left")

# panel letters and titles
ann("(a)", 38.9, 44.4, 31)
ann("4 MV", 149.3, 42.2, 44)
ann("<b>(b)</b>", 732.6, 33.3, 18, family=SANS)
ann("6 MV", 845.8, 35.5, 44)
ann("<b>(c)</b>", 33.3, 884.7, 18, family=SANS)
ann("6 MV FFF", 110.4, 932.4, 44)
ann("<b>(d)</b>", 732.6, 894.7, 18, family=SANS)
ann("10 MV", 838, 894.7, 44)

fig.update_layout(width=W, height=H, margin=dict(l=0, r=0, t=0, b=0, pad=0, autoexpand=False),
                  paper_bgcolor="white", plot_bgcolor="rgba(0,0,0,0)", showlegend=False,
                  annotations=annotations, shapes=shapes, **layout)
fig.write_html("out.html", config={"displayModeBar": False, "staticPlot": True},
               post_script="document.body.style.margin='0px';document.body.style.padding='0px';"
                           "document.body.style.overflow='hidden';")
